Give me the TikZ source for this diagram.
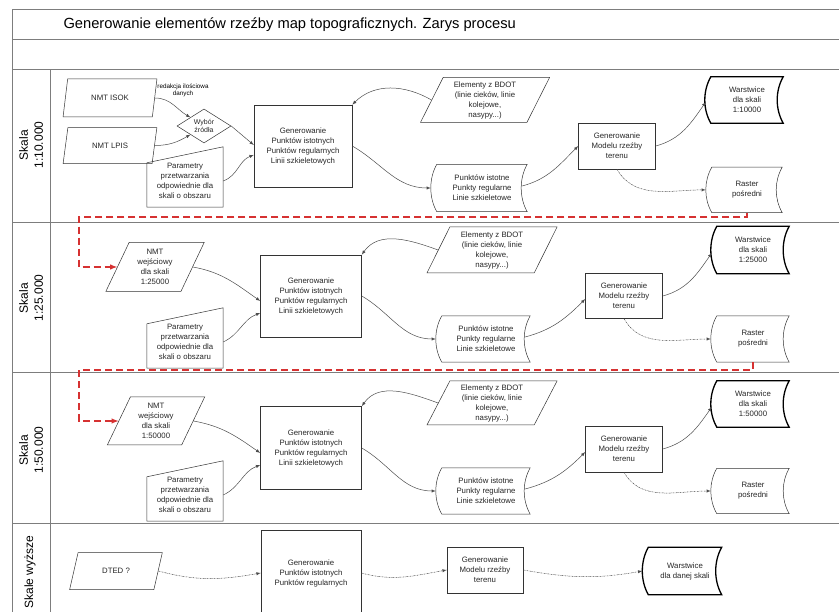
\documentclass[tikz,border=0pt]{standalone}
\usepackage{fontspec}
\setmainfont{Liberation Sans}
\usetikzlibrary{positioning,shapes.geometric,calc}

\definecolor{dashred}{RGB}{214,50,50}
\definecolor{framegray}{RGB}{125,125,125}

\newcommand{\boxfont}{\fontsize{7.8}{10}\selectfont}
% outline of the stored data boxes
\newcommand{\storedoutline}[1]{%
  \draw[#1] (\tikzlastnode.north west) -- (\tikzlastnode.north east)
    .. controls ($(\tikzlastnode.north east)+(-8,14)$) and ($(\tikzlastnode.south east)+(-8,-14)$) .. (\tikzlastnode.south east)
    -- (\tikzlastnode.south west)
    .. controls ($(\tikzlastnode.south west)+(-8,-14)$) and ($(\tikzlastnode.north west)+(-8,14)$) .. (\tikzlastnode.north west) -- cycle;}
% outline of the manual input boxes
\newcommand{\manualoutline}[1]{%
  \draw[#1] ($(\tikzlastnode.north west)+(0,8)$) -- ($(\tikzlastnode.north east)+(0,-8)$)
    -- (\tikzlastnode.south east) -- (\tikzlastnode.south west) -- cycle;}

\begin{document}
\begin{tikzpicture}[x=1pt,y=-1pt,>=latex]
	\tikzstyle{frame}=[draw=framegray, line width=1pt]
	\tikzstyle{box}=[rectangle, draw=black!80, line width=0.5pt, align=center, font=\boxfont, text=black!85]
	\tikzstyle{io}=[trapezium, trapezium left angle=66, trapezium right angle=114, trapezium stretches=true, draw=black!80, line width=0.5pt, align=center, font=\boxfont, text=black!85, inner sep=1pt]
	\tikzstyle{stored}=[align=center, font=\boxfont, text=black!85, inner sep=1pt, append after command={\pgfextra{\storedoutline{draw=black!80, line width=0.5pt}}}]
	\tikzstyle{storedbold}=[align=center, font=\boxfont, text=black!85, inner sep=1pt, append after command={\pgfextra{\storedoutline{draw=black, line width=1.3pt}}}]
	\tikzstyle{manual}=[align=center, font=\boxfont, text=black!85, inner sep=1pt, minimum width=76pt, minimum height=52pt, append after command={\pgfextra{\manualoutline{draw=black!80, line width=0.5pt}}}]
	\tikzstyle{choice}=[diamond, aspect=1.6, inner sep=0pt, minimum width=54pt, minimum height=34pt, draw=black!80, line width=0.5pt, align=center, font=\fontsize{7}{8.5}\selectfont, text=black!85]
	\tikzstyle{flow}=[->, draw=black!70, line width=0.5pt]
	\tikzstyle{flowdot}=[flow, dash pattern=on 1.5pt off 0.8pt on 0.4pt off 0.8pt]
	\tikzstyle{handover}=[-latex, draw=dashred, line width=1.4pt, dash pattern=on 7pt off 4pt]
	\tikzstyle{lane}=[rotate=90, align=center, font=\fontsize{12}{15}\selectfont]
	\useasboundingbox (0,0) rectangle (839,612);
		% frame
		\draw[frame] (12,10) -- (839,10);
		\draw[frame] (12,40) -- (839,40);
		\draw[frame] (12,70) -- (839,70);
		\draw[frame] (12,223) -- (839,223);
		\draw[frame] (12,373) -- (839,373);
		\draw[frame] (12,524) -- (839,524);
		\draw[frame] (12,10) -- (12,612);
		\draw[frame] (50,70) -- (50,612);
		\node[anchor=west, font=\fontsize{14.7}{18}\selectfont] (title) at (60,25) {Generowanie elementów rzeźby map topograficznych. Zarys procesu};
		\node[lane] (lane1) at (31,145) {Skala\\1:10.000};
		\node[lane] (lane2) at (31,298) {Skala\\1:25.000};
		\node[lane] (lane3) at (31,450) {Skala\\1:50.000};
		\node[lane] (lane4) at (30,572) {Skale wyższe};
		% skala 1:10 000
		\node[io, trapezium left angle=74, trapezium right angle=106, minimum width=94pt, minimum height=38pt] (isok) at (110,98) {NMT ISOK};
		\node[io, trapezium left angle=74, trapezium right angle=106, minimum width=94pt, minimum height=36pt] (lpis) [below=10pt of isok] {NMT LPIS};
		\node[choice] (wyb) at (204,126) {Wybór\\źródła};
		\node[font=\fontsize{6.3}{7}\selectfont, align=center, inner sep=0pt] (red) at (183,90) {redakcja ilościowa\\danych};
		\node[manual] (par1) at (185,181) {Parametry\\przetwarzania\\odpowiednie dla\\skali o obszaru};
		\node[box, minimum width=98pt, minimum height=82pt] (gen1) at (303,146) {Generowanie\\Punktów istotnych\\Punktów regularnych\\Linii szkieletowych};
		\node[io, minimum width=130pt, minimum height=45pt] (bdot1) at (485,100) {Elementy z BDOT\\(linie cieków, linie\\kolejowe,\\nasypy...)};
		\node[stored, minimum width=90pt, minimum height=47pt] (pkt1) at (482,188) {Punktów istotne\\Punkty regularne\\Linie szkieletowe};
		\node[box, minimum width=77pt, minimum height=46pt] (mod1) at (617,146) {Generowanie\\Modelu rzeźby\\terenu};
		\node[storedbold, minimum width=72pt, minimum height=46pt] (war1) at (747,100) {Warstwice\\dla skali\\1:10000};
		\node[stored, minimum width=70pt, minimum height=45pt] (ras1) [below=44pt of war1] {Raster\\pośredni};
			\draw[flow] (isok.east) to[out=0,in=150] (wyb.north west);
			\draw[flow] (lpis.east) to[out=0,in=210] (wyb.south west);
			\draw[flow] (wyb.east) -- ($(gen1.west)+(0,-1)$);
			\draw[flow] (par1.east) to[out=20,in=200] ($(gen1.west)+(0,9)$);
			\draw[flow] (bdot1.west) to[out=150,in=45] (gen1.north east);
			\draw[flow] (gen1.east) to[out=-30,in=180] ($(pkt1.west)+(-6,0)$);
			\draw[flow] ($(pkt1.east)+(-5,-2)$) to[out=15,in=225] (mod1.west);
			\draw[flow] (mod1.east) to[out=15,in=235] ($(war1.west)+(-5,2)$);
			\draw[flowdot] (mod1.south) to[out=-60,in=180] ($(ras1.west)+(-6,0)$);
		% skala 1:25 000
		\node[io, minimum width=99pt, minimum height=49pt] (nmt2) at (155,267) {NMT\\wejściowy\\dla skali\\1:25000};
		\node[manual] (par2) at (185,342) {Parametry\\przetwarzania\\odpowiednie dla\\skali o obszaru};
		\node[box, minimum width=101pt, minimum height=82pt] (gen2) at (311,296) {Generowanie\\Punktów istotnych\\Punktów regularnych\\Linii szkieletowych};
		\node[io, minimum width=131pt, minimum height=46pt] (bdot2) at (492,250) {Elementy z BDOT\\(linie cieków, linie\\kolejowe,\\nasypy...)};
		\node[stored, minimum width=88pt, minimum height=46pt] (pkt2) at (486,339) {Punktów istotne\\Punkty regularne\\Linie szkieletowe};
		\node[box, minimum width=77pt, minimum height=45pt] (mod2) at (624,296) {Generowanie\\Modelu rzeźby\\terenu};
		\node[storedbold, minimum width=72pt, minimum height=47pt] (war2) at (753,250) {Warstwice\\dla skali\\1:25000};
		\node[stored, minimum width=72pt, minimum height=46pt] (ras2) at (753,339) {Raster\\pośredni};
			\coordinate (turn1) at (79,217);
			\draw[handover] (ras1.south) |- (turn1) |- (nmt2.west);
			\draw[flow] (nmt2.east) to[out=-10,in=145] ($(gen2.west)+(0,5)$);
			\draw[flow] (par2.east) to[out=25,in=200] ($(gen2.west)+(0,17)$);
			\draw[flow] (bdot2.west) to[out=160,in=55] (gen2.north east);
			\draw[flow] (gen2.east) to[out=-30,in=180] ($(pkt2.west)+(-6,0)$);
			\draw[flow] ($(pkt2.east)+(-5,-2)$) to[out=15,in=225] ($(mod2.west)+(0,3)$);
			\draw[flow] (mod2.east) to[out=15,in=235] ($(war2.west)+(-5,3)$);
			\draw[flowdot] (mod2.south) to[out=-60,in=180] ($(ras2.west)+(-6,0)$);
		% skala 1:50 000
		\node[io, minimum width=98pt, minimum height=48pt] (nmt3) at (156,421) {NMT\\wejściowy\\dla skali\\1:50000};
		\node[manual] (par3) at (185,495) {Parametry\\przetwarzania\\odpowiednie dla\\skali o obszaru};
		\node[box, minimum width=101pt, minimum height=83pt] (gen3) at (311,448) {Generowanie\\Punktów istotnych\\Punktów regularnych\\Linii szkieletowych};
		\node[io, minimum width=131pt, minimum height=44pt] (bdot3) at (492,403) {Elementy z BDOT\\(linie cieków, linie\\kolejowe,\\nasypy...)};
		\node[stored, minimum width=88pt, minimum height=46pt] (pkt3) at (486,491) {Punktów istotne\\Punkty regularne\\Linie szkieletowe};
		\node[box, minimum width=77pt, minimum height=46pt] (mod3) at (624,449) {Generowanie\\Modelu rzeźby\\terenu};
		\node[storedbold, minimum width=72pt, minimum height=46pt] (war3) at (753,404) {Warstwice\\dla skali\\1:50000};
		\node[stored, minimum width=72pt, minimum height=45pt] (ras3) at (753,491) {Raster\\pośredni};
			\coordinate (turn2) at (79,370);
			\draw[handover] (ras2.south) |- (turn2) |- (nmt3.west);
			\draw[flow] (nmt3.east) to[out=-10,in=145] ($(gen3.west)+(0,5)$);
			\draw[flow] (par3.east) to[out=25,in=200] ($(gen3.west)+(0,17)$);
			\draw[flow] (bdot3.west) to[out=160,in=55] (gen3.north east);
			\draw[flow] (gen3.east) to[out=-30,in=180] ($(pkt3.west)+(-6,0)$);
			\draw[flow] ($(pkt3.east)+(-5,-2)$) to[out=15,in=225] ($(mod3.west)+(0,3)$);
			\draw[flow] (mod3.east) to[out=15,in=235] ($(war3.west)+(-5,3)$);
			\draw[flowdot] (mod3.south) to[out=-60,in=180] ($(ras3.west)+(-6,0)$);
		% skale wyzsze
		\node[io, minimum width=93pt, minimum height=37pt] (dted) at (116,571) {DTED ?};
		\node[box, minimum width=100pt, minimum height=86pt] (gen4) at (311,573) {Generowanie\\Punktów istotnych\\Punktów regularnych};
		\node[box, minimum width=76pt, minimum height=46pt] (mod4) at (485,570) {Generowanie\\Modelu rzeźby\\terenu};
		\node[storedbold, minimum width=73pt, minimum height=47pt] (war4) at (685,571) {Warstwice\\dla danej skali};
			\draw[flowdot] (dted.east) to[out=-15,in=190] (gen4.west);
			\draw[flowdot] (gen4.east) to[out=-15,in=190] (mod4.west);
			\draw[flowdot] (mod4.east) to[out=-10,in=190] ($(war4.west)+(-6,0)$);
\end{tikzpicture}
\end{document}
